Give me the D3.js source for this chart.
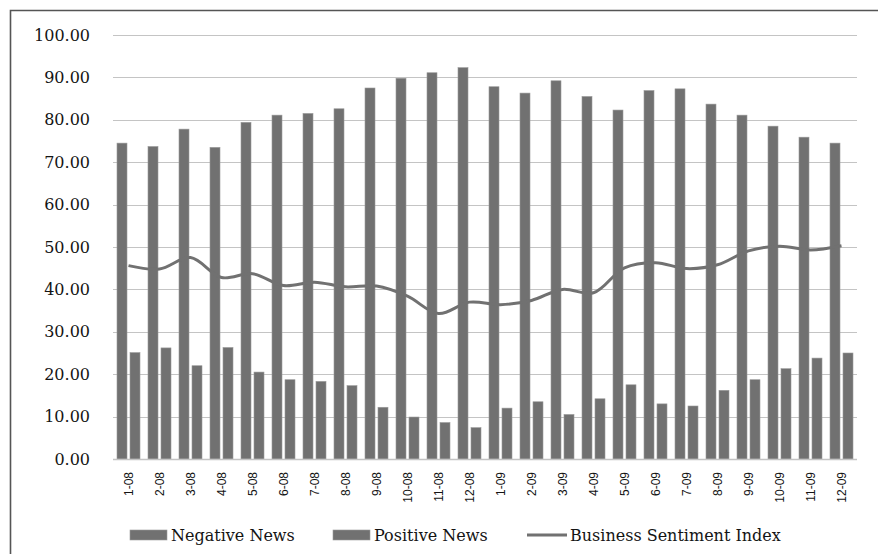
<!DOCTYPE html>
<html>
<head>
<meta charset="utf-8">
<script src="https://cdn.jsdelivr.net/npm/d3@7"></script>
<style>
  html, body { margin: 0; padding: 0; background: #ffffff; }
  svg { display: block; }
</style>
</head>
<body>
<svg id="chart" width="878" height="554"></svg>
<script>
// Monthly news counts and sentiment index, Jan 2008 – Dec 2009
const months = ["1-08","2-08","3-08","4-08","5-08","6-08","7-08","8-08","9-08","10-08","11-08","12-08",
                "1-09","2-09","3-09","4-09","5-09","6-09","7-09","8-09","9-09","10-09","11-09","12-09"];
const negativeNews = [74.5, 73.7, 77.8, 73.5, 79.4, 81.1, 81.5, 82.6, 87.5, 89.8, 91.1, 92.3,
                      87.8, 86.3, 89.2, 85.5, 82.3, 86.9, 87.3, 83.7, 81.1, 78.5, 75.9, 74.5];
const positiveNews = [25.1, 26.2, 22.0, 26.3, 20.5, 18.7, 18.3, 17.3, 12.2, 9.9, 8.6, 7.4,
                      12.0, 13.5, 10.5, 14.2, 17.5, 13.0, 12.5, 16.2, 18.7, 21.3, 23.8, 25.0];
const sentimentIndex = [45.6, 44.8, 47.5, 42.8, 43.7, 40.9, 41.7, 40.6, 40.8, 38.4, 34.3, 37.0,
                        36.4, 37.4, 40.0, 39.2, 45.1, 46.3, 44.9, 45.8, 49.1, 50.2, 49.3, 50.3];
const yTicks = [0, 10, 20, 30, 40, 50, 60, 70, 80, 90, 100];
const seriesNames = ["Negative News", "Positive News", "Business Sentiment Index"];

const svg = d3.select("#chart");
const ink = "#141414";
const barColor = "#717171";
const serif = "'DejaVu Serif', serif";
const sans = "'Liberation Sans', Arial, sans-serif";

const x = d3.scaleBand().domain(months).range([113, 857]);
const y = d3.scaleLinear().domain([0, 100]).range([459, 35]);

// frame
svg.append("path")
  .attr("d", "M10.5,554 L10.5,10.5 L878,10.5")
  .attr("fill", "none").attr("stroke", "#555").attr("stroke-width", 1.6);

// horizontal gridlines
svg.append("g").selectAll("line").data(yTicks.filter(d => d > 0)).join("line")
  .attr("x1", 113).attr("x2", 857)
  .attr("y1", d => Math.round(y(d)) + 0.5).attr("y2", d => Math.round(y(d)) + 0.5)
  .attr("stroke", "#c4c4c4").attr("stroke-width", 1.2);

// y axis labels
const yAxis = svg.append("g").attr("transform", "translate(90,0)")
  .call(d3.axisLeft(y).tickValues(yTicks).tickFormat(d3.format(".2f")).tickSize(0).tickPadding(0));
yAxis.select(".domain").remove();
yAxis.selectAll("text")
  .attr("font-family", serif).attr("font-size", 16).attr("fill", ink);

// bars
const barW = 10, gap = 3;
const groups = svg.append("g");
groups.selectAll("rect.neg").data(months).join("rect").attr("class", "neg")
  .attr("x", d => x(d) + x.bandwidth() / 2 - gap / 2 - barW)
  .attr("width", barW)
  .attr("y", (d, i) => y(negativeNews[i]))
  .attr("height", (d, i) => y(0) - y(negativeNews[i]))
  .attr("fill", barColor).attr("stroke", "#9a9a9a").attr("stroke-width", 0.6);
groups.selectAll("rect.pos").data(months).join("rect").attr("class", "pos")
  .attr("x", d => x(d) + x.bandwidth() / 2 + gap / 2)
  .attr("width", barW)
  .attr("y", (d, i) => y(positiveNews[i]))
  .attr("height", (d, i) => y(0) - y(positiveNews[i]))
  .attr("fill", barColor).attr("stroke", "#9a9a9a").attr("stroke-width", 0.6);

// x axis baseline
svg.append("line")
  .attr("x1", 113).attr("x2", 857).attr("y1", y(0) + 0.5).attr("y2", y(0) + 0.5)
  .attr("stroke", "#c4c4c4").attr("stroke-width", 1.4);

// sentiment line
const line = d3.line()
  .x((d, i) => x(months[i]) + x.bandwidth() / 2)
  .y(d => y(d))
  .curve(d3.curveCatmullRom.alpha(0.5));
svg.append("path").datum(sentimentIndex)
  .attr("d", line)
  .attr("fill", "none").attr("stroke", barColor).attr("stroke-width", 3)
  .attr("stroke-linejoin", "round");

// month labels, rotated
const xAxis = svg.append("g").attr("transform", `translate(0,${y(0)})`)
  .call(d3.axisBottom(x).tickSize(0).tickPadding(0));
xAxis.select(".domain").remove();
xAxis.selectAll("text")
  .attr("font-family", sans).attr("font-size", 12).attr("fill", ink)
  .attr("transform", "rotate(-90)")
  .attr("text-anchor", "end")
  .attr("x", -13).attr("y", 0).attr("dy", "0.35em");

// legend
const legend = svg.append("g").attr("font-family", serif).attr("font-size", 16).attr("fill", ink);
const legendItems = [
  { name: seriesNames[0], kind: "bar", x0: 130, tx: 171 },
  { name: seriesNames[1], kind: "bar", x0: 333, tx: 374 },
  { name: seriesNames[2], kind: "line", x0: 527, tx: 570 }
];
legendItems.forEach(item => {
  if (item.kind === "bar") {
    legend.append("rect").attr("x", item.x0).attr("y", 530).attr("width", 37).attr("height", 10)
      .attr("fill", barColor).attr("stroke", "#9a9a9a").attr("stroke-width", 0.6);
  } else {
    legend.append("line").attr("x1", item.x0).attr("x2", item.x0 + 40).attr("y1", 535).attr("y2", 535)
      .attr("stroke", barColor).attr("stroke-width", 3);
  }
  legend.append("text").attr("x", item.tx).attr("y", 535).attr("dy", "0.35em").text(item.name);
});
</script>
</body>
</html>
